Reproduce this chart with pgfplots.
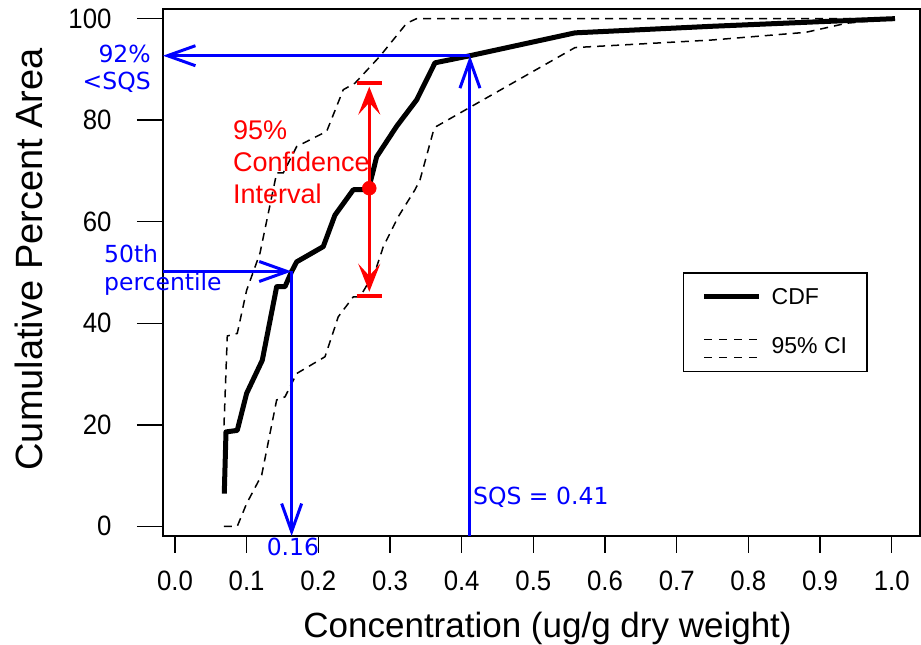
\documentclass[border=0pt]{standalone}
\usepackage{pgfplots}
\pgfplotsset{compat=1.18}
\usepackage{fontspec}
\setmainfont{Liberation Sans}
\newfontfamily\dejavu{DejaVu Sans}
\newfontfamily\ticksfont[FakeStretch=0.92]{Liberation Sans}
\usetikzlibrary{arrows.meta}
\definecolor{myblue}{RGB}{0,0,255}
\definecolor{myred}{RGB}{255,0,0}

\pgfplotstableread{
x y
0.0688 6.45
0.0712 18.6
0.0869 18.9
0.1000 26.2
0.1218 32.7
0.1419 47.2
0.1535 47.2
0.1628 50.2
0.1698 52.1
0.2069 55.1
0.2232 61.3
0.2488 66.3
0.2697 66.3
0.2758 69.6
0.2814 72.8
0.3093 78.8
0.3372 84.0
0.3628 91.3
0.4116 92.7
0.5581 97.2
0.7500 98.5
0.9000 99.4
1.0046 100.0
}\cdfdata

\pgfplotstableread{
x y
0.0684 19.9
0.0730 37.5
0.0869 38.0
0.1000 46.5
0.1186 53.8
0.1419 69.6
0.1511 69.6
0.1698 74.8
0.2117 77.8
0.2348 86.0
0.2512 87.3
0.2860 92.6
0.3233 99.1
0.3372 100.0
0.9376 100.0
1.0046 100.0
}\upperci

\pgfplotstableread{
x y
0.0684 0.0
0.0869 0.0
0.1000 4.5
0.1210 10.1
0.1419 24.9
0.1535 25.5
0.1698 30.1
0.2093 33.4
0.2279 41.3
0.2488 45.2
0.2581 45.2
0.2720 48.5
0.2814 51.1
0.2907 55.1
0.3116 61.0
0.3349 66.3
0.3418 68.2
0.3604 77.8
0.3651 78.8
0.5581 94.3
0.7500 95.8
0.8800 97.3
0.9372 99.1
0.9750 99.6
1.0046 100.0
}\lowerci

\begin{document}
\begin{tikzpicture}
\useasboundingbox (0,0) rectangle (921pt,645pt);
\begin{axis}[
  at={(163pt,109pt)}, anchor=south west,
  scale only axis, width=757pt, height=527pt,
  xmin=-0.0167, xmax=1.0395, ymin=-1.9, ymax=101.9,
  clip=false,
  axis line style={line width=1.5pt},
  tick align=outside,
  xtick pos=left, ytick pos=left,
  tick style={line width=1.5pt, black},
  major tick length=17pt,
  ytick style={/pgfplots/major tick length=26pt},
  xtick={0,0.1,0.2,0.3,0.4,0.5,0.6,0.7,0.8,0.9,1.0},
  ytick={0,20,40,60,80,100},
  /pgf/number format/assume math mode=true,
  ticklabel style={font=\ticksfont\fontsize{28}{32}\selectfont},
  xticklabel style={yshift=-14pt, /pgf/number format/.cd, fixed, fixed zerofill, precision=1},
  yticklabel style={xshift=-31pt},
  xlabel={Concentration (ug/g dry weight)},
  ylabel={Cumulative Percent Area},
  xlabel style={font=\fontsize{35}{40}\selectfont, at={(axis description cs:0.508,-0.176)}, anchor=center},
  ylabel style={font=\fontsize{38}{44}\selectfont, at={(axis description cs:-0.1777,0.525)}, anchor=center},
  legend style={at={(axis description cs:0.687,0.5)}, anchor=north west, draw=black, line width=1.2pt,
    font=\fontsize{23}{28}\selectfont, inner xsep=18pt, inner ysep=13pt, row sep=28pt,
    /tikz/every odd column/.append style={column sep=8pt}},
  legend cell align=left,
]
\addplot[black, line width=1.5pt, dash pattern=on 8pt off 6pt, forget plot] table[x=x,y=y] {\upperci};
\addplot[black, line width=1.5pt, dash pattern=on 8pt off 6pt, forget plot] table[x=x,y=y] {\lowerci};
\addplot[black, line width=5pt, line join=round, forget plot] table[x=x,y=y] {\cdfdata};

% blue annotations
\addplot[myblue, line width=3pt, -{Straight Barb[length=28pt,width=20pt]}, forget plot] coordinates {(0.4116,-1.9) (0.4116,92.7)};
\addplot[myblue, line width=3pt, -{Straight Barb[length=28pt,width=20pt]}, forget plot] coordinates {(0.4116,92.7) (-0.0167,92.7)};
\addplot[myblue, line width=3pt, -{Straight Barb[length=28pt,width=20pt]}, forget plot] coordinates {(-0.0167,50.2) (0.1628,50.2)};
\addplot[myblue, line width=3pt, -{Straight Barb[length=28pt,width=20pt]}, forget plot] coordinates {(0.1628,50.2) (0.1628,-1.9)};

% red confidence interval
\addplot[myred, line width=3pt, {Stealth[length=28pt,width=22pt,inset=12pt]}-{Stealth[length=28pt,width=22pt,inset=12pt]}, forget plot] coordinates {(0.2711,46.2) (0.2711,86.6)};
\addplot[myred, line width=4pt, forget plot] coordinates {(0.2535,87.3) (0.2892,87.3)};
\addplot[myred, line width=4pt, forget plot] coordinates {(0.2535,45.4) (0.2892,45.4)};
\addplot[myred, only marks, mark=*, mark size=7pt, forget plot] coordinates {(0.2711,66.6)};

\node[anchor=east, align=right, font=\dejavu\fontsize{23.5}{27}\selectfont, text=myblue, inner sep=0pt] at (axis cs:-0.0335,90.2) {92\%\\<SQS};
\node[anchor=west, align=left, font=\dejavu\fontsize{23.5}{28}\selectfont, text=myblue, inner sep=0pt] at (axis cs:-0.0991,50.5) {50th\\percentile};
\node[anchor=center, font=\dejavu\fontsize{23.5}{27}\selectfont, text=myblue, inner sep=0pt] at (axis cs:0.1646,-4.1) {0.16};
\node[anchor=west, font=\dejavu\fontsize{23.5}{27}\selectfont, text=myblue, inner sep=0pt] at (axis cs:0.4158,5.7) {SQS = 0.41};
\node[anchor=west, align=left, font=\fontsize{27}{32}\selectfont, text=myred, inner sep=0pt] at (axis cs:0.0809,71.8) {95\%\\Confidence\\Interval};

\addlegendimage{legend image code/.code={\draw[black, line width=5pt] (0pt,0pt) -- (55pt,0pt);}}
\addlegendentry{CDF}
\addlegendimage{legend image code/.code={\draw[black, line width=1.5pt, dash pattern=on 8pt off 7pt] (0pt,7pt) -- (55pt,7pt) (0pt,-11pt) -- (55pt,-11pt);}}
\addlegendentry{95\% CI}
\end{axis}
\end{tikzpicture}
\end{document}
